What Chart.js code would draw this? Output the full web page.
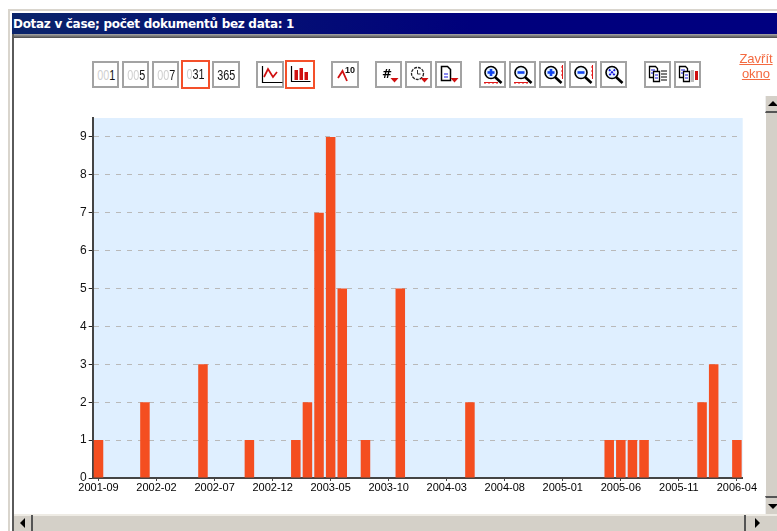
<!DOCTYPE html>
<html>
<head>
<meta charset="utf-8">
<title>Dotaz v čase</title>
<script src="https://cdn.jsdelivr.net/npm/chart.js@4/dist/chart.umd.min.js"></script>
<style>
  html, body { margin: 0; padding: 0; background: #fff; overflow: hidden; }
  #page { position: relative; width: 777px; height: 531px; overflow: hidden; background: #fff; }
  #page div, #page a, #page svg { position: absolute; box-sizing: border-box; }
  #chart { position: absolute; left: 0; top: 0; }
  .frame { background: #d4d0c8; }
  #title {
    left: 12px; top: 13px; width: 765px; height: 21px; padding: 4px 0 0 1px;
    background: linear-gradient(90deg, #0a246a, #00007c 60%, #000080);
    color: #fff; font: bold 12px "DejaVu Sans", sans-serif; letter-spacing: -0.3px; white-space: nowrap;
  }
  .btn { top: 61px; height: 27px; background: #fff; border: 2px solid #a3a3a3; }
  .btn.on { top: 60px; height: 29px; border-color: #f4502a; }
  .num {
    left: 0; right: 0; top: 3px; text-align: center; color: #111;
    font: 15px "Liberation Sans", sans-serif; transform: scaleX(0.72);
  }
  .num span { color: #cfcfcf; }
  #close {
    left: 735px; top: 51px; width: 42px; text-align: center; color: #f46a40;
    font: 13px/15px "Liberation Sans", sans-serif; text-decoration: underline;
  }
  .arrow { width: 0; height: 0; border-style: solid; border-color: transparent; }
</style>
</head>
<body>
<div id="page">
  <canvas id="chart" width="777" height="531"></canvas>
  <div class="frame" style="left:8px;top:9px;width:769px;height:2px;background:#d9d5cd"></div>
  <div class="frame" style="left:8px;top:9px;width:2px;height:522px;background:#d9d5cd"></div>
  <div class="frame" style="left:12px;top:34px;width:765px;height:4px;background:linear-gradient(#a8a8a8,#4a4a4a)"></div>
  <div class="frame" style="left:12px;top:34px;width:2px;height:497px;background:#5a5a5a"></div>
  <div id="title">Dotaz v čase; počet dokumentů bez data: 1</div>
  <div id="tools"></div>
  <a id="close">Zavřít<br>okno</a>

  <div class="frame" style="left:766px;top:96px;width:11px;height:418px"></div>
  <div style="left:765px;top:96px;width:12px;height:17px;background:#d4d0c8;border-bottom:2px solid #555;border-left:1px solid #eee"></div>
  <div class="arrow" style="left:768px;top:101px;border-width:0 5px 5px 5px;border-bottom-color:#000"></div>
  <div style="left:765px;top:496px;width:12px;height:18px;background:#d4d0c8;border-top:2px solid #555;border-left:1px solid #eee"></div>
  <div class="arrow" style="left:768px;top:504px;border-width:5px 5px 0 5px;border-top-color:#000"></div>

  <div class="frame" style="left:14px;top:514px;width:763px;height:17px"></div>
  <div style="left:14px;top:514px;width:763px;height:2px;background:#eeebe4"></div>
  <div style="left:31px;top:515px;width:2px;height:16px;background:#555"></div>
  <div class="arrow" style="left:20px;top:518px;border-width:5px 5px 5px 0;border-right-color:#000"></div>
  <div style="left:744px;top:515px;width:2px;height:16px;background:#555"></div>
  <div class="arrow" style="left:755px;top:518px;border-width:5px 0 5px 5px;border-left-color:#000"></div>
</div>
<script>
const months = [
  "2001-09", "2001-10", "2001-11", "2001-12",
  "2002-01", "2002-02", "2002-03", "2002-04", "2002-05", "2002-06", "2002-07", "2002-08", "2002-09", "2002-10", "2002-11", "2002-12",
  "2003-01", "2003-02", "2003-03", "2003-04", "2003-05", "2003-06", "2003-07", "2003-08", "2003-09", "2003-10", "2003-11", "2003-12",
  "2004-01", "2004-02", "2004-03", "2004-04", "2004-05", "2004-06", "2004-07", "2004-08", "2004-09", "2004-10", "2004-11", "2004-12",
  "2005-01", "2005-02", "2005-03", "2005-04", "2005-05", "2005-06", "2005-07", "2005-08", "2005-09", "2005-10", "2005-11", "2005-12",
  "2006-01", "2006-02", "2006-03", "2006-04",
];
const counts = [
  1, 0, 0, 0,
  2, 0, 0, 0, 0, 3, 0, 0, 0, 1, 0, 0,
  0, 1, 2, 7, 9, 5, 0, 1, 0, 0, 5, 0,
  0, 0, 0, 0, 2, 0, 0, 0, 0, 0, 0, 0,
  0, 0, 0, 0, 1, 1, 1, 1, 0, 0, 0, 0,
  2, 3, 0, 1,
];
const yMax = 9.5;
const labelEvery = 5;

// podklad grafu
const plotBackground = {
  id: "plotBackground",
  beforeDraw(chart) {
    const a = chart.chartArea;
    chart.ctx.fillStyle = "#dfefff";
    chart.ctx.fillRect(a.left, a.top, a.width, a.height);
  },
};

new Chart(document.getElementById("chart").getContext("2d"), {
  type: "bar",
  plugins: [plotBackground],
  data: {
    labels: months,
    datasets: [{ data: counts, backgroundColor: "#f44e20", barPercentage: 0.82, categoryPercentage: 1 }],
  },
  options: {
    responsive: false,
    animation: false,
    layout: { padding: { top: 118, right: 34.3, left: 0.7, bottom: 0 } },
    plugins: { legend: { display: false }, tooltip: { enabled: false } },
    scales: {
      x: {
        afterFit: s => { s.height = 53; },
        border: { color: "#444", width: 2 },
        grid: { drawOnChartArea: false, tickLength: 3, tickColor: "#444", offset: false },
        ticks: {
          autoSkip: false, maxRotation: 0, padding: 0, color: "#000",
          font: { family: "Liberation Sans", size: 11 },
          callback(v, i) { return i % labelEvery === 0 ? months[i] : null; },
        },
      },
      y: {
        min: 0, max: yMax,
        afterFit: s => { s.width = 92; },
        afterBuildTicks: s => { s.ticks = s.ticks.filter(t => Number.isInteger(t.value)); },
        border: { color: "#444", width: 2, dash: [5, 6] },
        grid: { color: "#b9b9b9", tickColor: "#222", tickLength: 4 },
        ticks: {
          stepSize: 1, padding: 2, color: "#111",
          font: { family: "Liberation Sans", size: 12 },
        },
      },
    },
  },
});

// nástrojová lišta
const red = "#d01010", blue = "#1414e0";
const glass = (plus, extra) => `<circle cx="10" cy="9.5" r="6" fill="#e8f4ff" stroke="#000" stroke-width="1.6"/>
  <path d="M14 14l6.5 6" stroke="#000" stroke-width="2.6"/>
  ${plus ? '<path d="M10 6v7" stroke="#14e" stroke-width="2.6"/>' : ""}<path d="M6.5 9.5h7" stroke="#14e" stroke-width="2.6"/>${extra}`;
const hRule = `<path d="M3 19.5h14M4 19v2M8 19v2M12 19v2M16 19v2" stroke="#e01818"/>`;
const vRule = `<path d="M21.5 2v14M20 4h2M20 8h2M20 12h2" stroke="#e01818"/>`;
const drop = `<path d="M13.5 15h8l-4 4.5z" fill="${red}"/>`;
const docs = extra => `<path d="M3.5 3.5h6l2 2v9h-8z" fill="#fff" stroke="#000" stroke-width="1.3"/><path d="M7.5 8.5h6v10h-6z" fill="#fff" stroke="#000" stroke-width="1.3"/>
  <path d="M5 7h4M5 10h2M9 12h3M9 15h3" stroke="${blue}"/>${extra}`;
const icons = {
  line: `<path d="M4.5 3v16.5h20" fill="none" stroke="#000" stroke-width="1.2"/><path d="M6 14l4-8 5 8 4-5" fill="none" stroke="${red}" stroke-width="1.7"/>`,
  bars: `<path d="M4.5 4v15.5h19" fill="none" stroke="#000" stroke-width="1.2"/><path d="M7.5 8H11v10H7.5zM12.5 6H16v12h-3.5zM17.5 10H21v8h-3.5z" fill="${red}"/>`,
  top10: `<path d="M5 15l4.5-7 4.5 10" fill="none" stroke="${red}" stroke-width="1.8"/><text x="12" y="10" font-family="Liberation Sans" font-weight="bold" font-size="9" fill="#111">10</text>`,
  hash: `<text x="5" y="15" font-family="DejaVu Sans" font-weight="bold" font-size="12" fill="#000">#</text>${drop}`,
  clock: `<circle cx="10.5" cy="10.5" r="6" fill="#fff" stroke="#222" stroke-width="1.3" stroke-dasharray="3 1"/><path d="M10.5 7v4h3" fill="none" stroke="#333"/>${drop}`,
  doc: `<path d="M4.5 3.5h6l3 3v11h-9z" fill="#fff" stroke="#000" stroke-width="1.5"/><path d="M7 11h4M7 14h4" stroke="${blue}" stroke-width="1.2"/>${drop}`,
  zoomInX: glass(true, hRule),
  zoomOutX: glass(false, hRule),
  zoomInY: glass(true, vRule),
  zoomOutY: glass(false, vRule),
  zoomAll: `<circle cx="10" cy="9.5" r="6" fill="#e8f4ff" stroke="#000" stroke-width="1.6"/><path d="M14 14l6.5 6" stroke="#000" stroke-width="2.6"/><path d="M7 6.5l6 6M13 6.5l-6 6" stroke="${blue}" stroke-width="1.8" stroke-dasharray="2 1"/>`,
  table: docs('<path d="M15 8h6M15 11h6M15 14h6M15 17h6" stroke="#555" stroke-width="1.4"/>'),
  chart: docs(`<path d="M15 7h3v12h-3z" fill="#bbb"/><path d="M19 8h3v9h-3z" fill="${red}"/>`),
};
const tools = [
  { x: 92, w: 27, lead: "00", num: "1" },
  { x: 122, w: 27, lead: "00", num: "5" },
  { x: 152, w: 27, lead: "00", num: "7" },
  { x: 181, w: 29, lead: "0", num: "31", on: true },
  { x: 212, w: 28, lead: "", num: "365" },
  { x: 256, w: 28, icon: "line" },
  { x: 285, w: 30, icon: "bars", on: true },
  { x: 331, w: 28, icon: "top10" },
  { x: 375, w: 27, icon: "hash" },
  { x: 405, w: 27, icon: "clock" },
  { x: 435, w: 27, icon: "doc" },
  { x: 479, w: 27, icon: "zoomInX" },
  { x: 509, w: 27, icon: "zoomOutX" },
  { x: 539, w: 27, icon: "zoomInY" },
  { x: 569, w: 28, icon: "zoomOutY" },
  { x: 600, w: 27, icon: "zoomAll" },
  { x: 644, w: 27, icon: "table" },
  { x: 674, w: 27, icon: "chart" },
];
document.getElementById("tools").innerHTML = tools.map(t => {
  const inner = t.icon
    ? `<svg style="left:0;top:0" width="25" height="25" viewBox="0 0 25 25">${icons[t.icon]}</svg>`
    : `<div class="num"><span>${t.lead}</span>${t.num}</div>`;
  return `<div class="btn${t.on ? " on" : ""}" style="left:${t.x}px;width:${t.w}px">${inner}</div>`;
}).join("");
</script>
</body>
</html>
